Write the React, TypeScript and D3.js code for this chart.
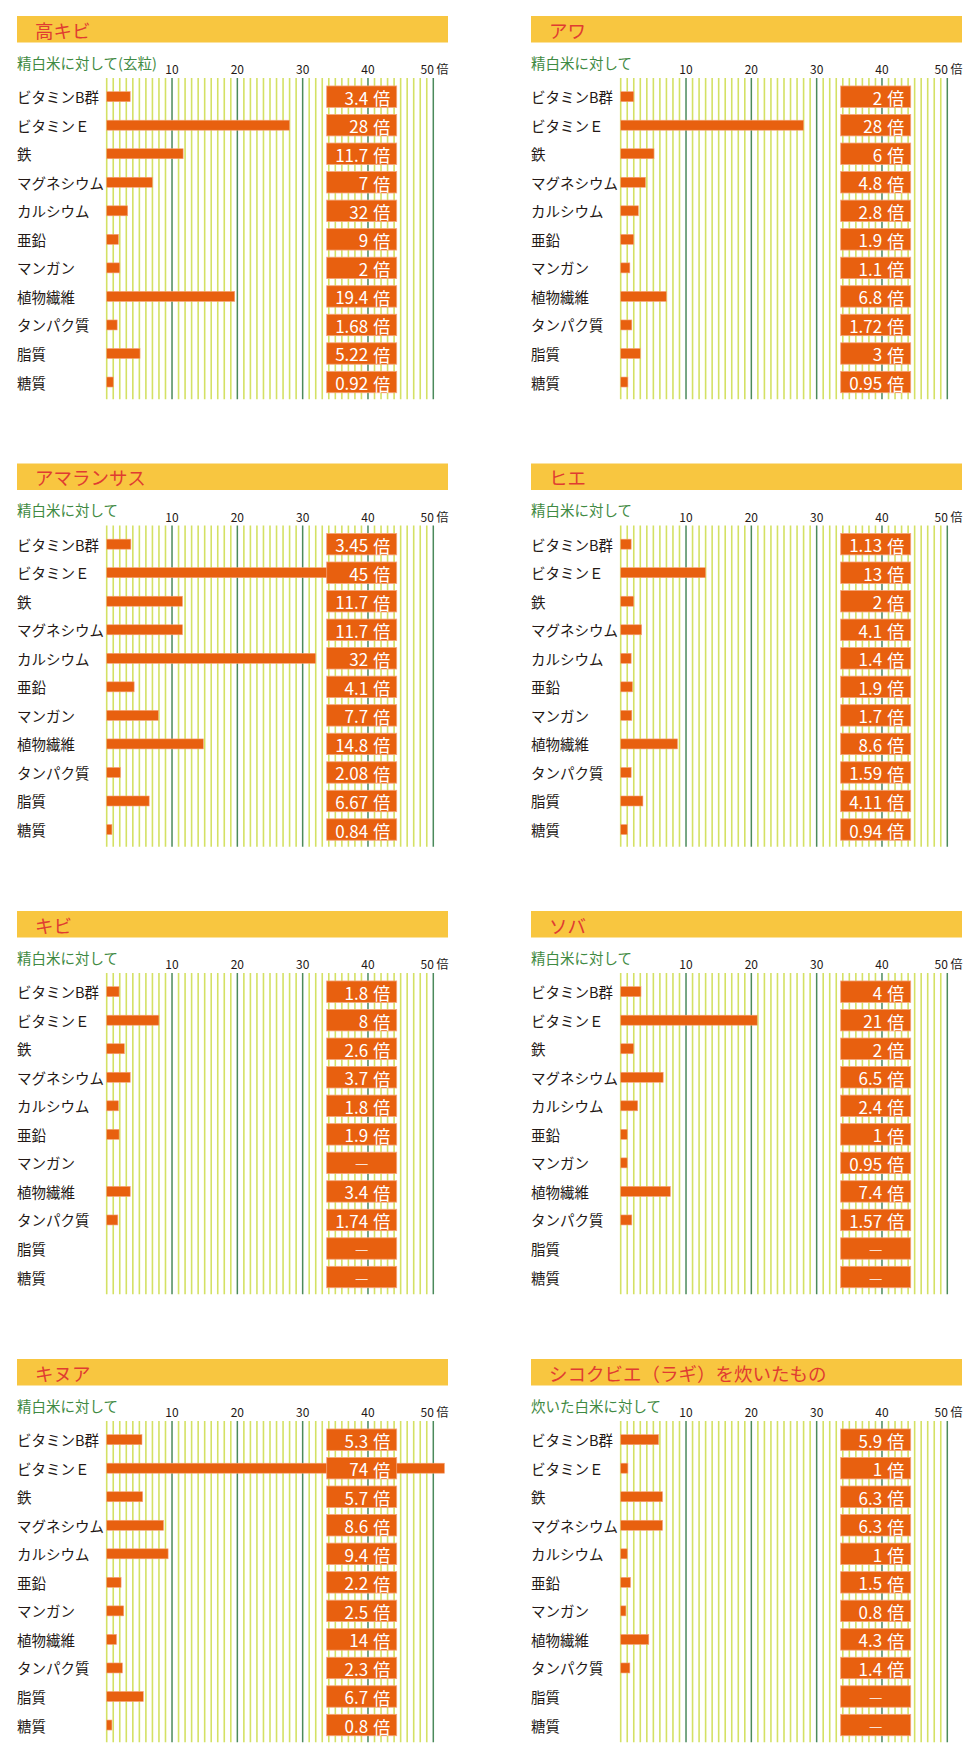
import React from 'react';
import * as d3 from 'd3';

// ---- data ----
const nutrients = ['ビタミンB群', 'ビタミンＥ', '鉄', 'マグネシウム', 'カルシウム', '亜鉛', 'マンガン', '植物繊維', 'タンパク質', '脂質', '糖質'];
const ticks = [10, 20, 30, 40, 50];
const unit = '倍';

const titles = ['高キビ', 'アワ', 'アマランサス', 'ヒエ', 'キビ', 'ソバ', 'キヌア', 'シコクビエ（ラギ）を炊いたもの'];
const subtitles = ['精白米に対して(玄粒)', '精白米に対して', '精白米に対して', '精白米に対して', '精白米に対して', '精白米に対して', '精白米に対して', '炊いた白米に対して'];

// bar lengths as drawn
const takakibiBars = [3.6, 28, 11.7, 7, 3.2, 1.8, 2, 19.6, 1.6, 5.1, 1.0];
const awaBars = [2.0, 28, 5.1, 3.8, 2.7, 2.0, 1.4, 7.0, 1.7, 3.0, 1.1];
const amaranthBars = [3.7, 44, 11.6, 11.6, 32, 4.2, 7.9, 14.8, 2.1, 6.5, 0.8];
const hieBars = [1.6, 13, 2.0, 3.2, 1.6, 1.8, 1.7, 8.7, 1.6, 3.4, 1.0];
const kibiBars = [1.9, 8, 2.7, 3.6, 1.8, 1.9, null, 3.6, 1.7, null, null];
const sobaBars = [3.1, 20.9, 2.0, 6.5, 2.6, 1.0, 1.0, 7.6, 1.7, null, null];
const quinoaBars = [5.4, 74, 5.5, 8.7, 9.4, 2.2, 2.6, 1.5, 2.4, 5.6, 0.8];
const ragiBars = [5.8, 1.1, 6.4, 6.4, 1.0, 1.5, 0.8, 4.3, 1.4, null, null];

// value labels
const takakibiLabels = ['3.4', '28', '11.7', '7', '32', '9', '2', '19.4', '1.68', '5.22', '0.92'];
const awaLabels = ['2', '28', '6', '4.8', '2.8', '1.9', '1.1', '6.8', '1.72', '3', '0.95'];
const amaranthLabels = ['3.45', '45', '11.7', '11.7', '32', '4.1', '7.7', '14.8', '2.08', '6.67', '0.84'];
const hieLabels = ['1.13', '13', '2', '4.1', '1.4', '1.9', '1.7', '8.6', '1.59', '4.11', '0.94'];
const kibiLabels = ['1.8', '8', '2.6', '3.7', '1.8', '1.9', null, '3.4', '1.74', null, null];
const sobaLabels = ['4', '21', '2', '6.5', '2.4', '1', '0.95', '7.4', '1.57', null, null];
const quinoaLabels = ['5.3', '74', '5.7', '8.6', '9.4', '2.2', '2.5', '14', '2.3', '6.7', '0.8'];
const ragiLabels = ['5.9', '1', '6.3', '6.3', '1', '1.5', '0.8', '4.3', '1.4', null, null];

const allBars = [takakibiBars, awaBars, amaranthBars, hieBars, kibiBars, sobaBars, quinoaBars, ragiBars];
const allLabels = [takakibiLabels, awaLabels, amaranthLabels, hieLabels, kibiLabels, sobaLabels, quinoaLabels, ragiLabels];

// ---- layout ----
const FONT = '"Noto Sans CJK JP", "Noto Sans", sans-serif';
const HEADER_W = 431;
const HEADER_H = 26.5;
const COL_X = [17, 531];
const ROW_Y = [16, 463.5, 911, 1359];
const ZERO_OFF = 89.7;
const PLOT_W = 326.6;
const CLIP_MAX = 51.7;

const C = {
  header: '#f8c640',
  title: '#e03c31',
  sub: '#3f8a43',
  label: '#231815',
  bar: '#e8600f',
  barStroke: '#f4a478',
  major: '#4b8a5b',
  minor: '#d4e164',
};

function Panel({ idx }: { idx: number }) {
  const hx = COL_X[idx % 2];
  const hy = ROW_Y[Math.floor(idx / 2)];
  const bars = allBars[idx];
  const labels = allLabels[idx];
  const x = d3.scaleLinear().domain([0, 50]).range([hx + ZERO_OFF, hx + ZERO_OFF + PLOT_W]);
  const y = d3.scaleBand<number>().domain(d3.range(nutrients.length)).range([hy + 66.4, hy + 380.3]);
  const rowC = (i: number) => (y(i) as number) + y.bandwidth() / 2;
  const gridTop = hy + 62;
  const gridBot = hy + 383.3;
  const minor = d3.range(0, 50).filter((v) => v % 10 !== 0 || v === 0);
  const boxL = x(0) + 220;
  const boxW = 70;
  return (
    <g>
      <rect x={hx} y={hy} width={HEADER_W} height={HEADER_H} fill={C.header} />
      <text x={hx + 18} y={hy + HEADER_H / 2 + 0.5} dominantBaseline="central" fill={C.title} fontSize={18.5} fontFamily={FONT}>
        {titles[idx]}
      </text>
      <text x={hx} y={hy + 46} dominantBaseline="central" fill={C.sub} fontSize={14.5} fontFamily={FONT}>
        {subtitles[idx]}
      </text>
      {ticks.map((t, i) => (
        <text key={t} x={x(t) + (i === ticks.length - 1 ? 1.2 : 0)} y={hy + 52.5} dominantBaseline="central" textAnchor="middle" fill={C.label} fontSize={12} fontFamily={FONT}>
          {i === ticks.length - 1 ? `${t} ${unit}` : `${t}`}
        </text>
      ))}
      {minor.map((v) => (
        <line key={'m' + v} x1={x(v)} x2={x(v)} y1={gridTop} y2={gridBot} stroke={C.minor} strokeWidth={1.6} />
      ))}
      {ticks.map((t) => (
        <line key={'M' + t} x1={x(t)} x2={x(t)} y1={gridTop} y2={gridBot} stroke={C.major} strokeWidth={1.5} />
      ))}
      {nutrients.map((n, i) => (
        <text key={n} x={hx} y={rowC(i)} dominantBaseline="central" fill={C.label} fontSize={14.5} fontFamily={FONT}>
          {n}
        </text>
      ))}
      {bars.map((v, i) =>
        v == null ? null : (
          <rect key={'b' + i} x={x(0)} y={rowC(i) - 5} width={x(Math.min(v, CLIP_MAX)) - x(0)} height={10} fill={C.bar} stroke={C.barStroke} strokeWidth={0.6} />
        )
      )}
      {labels.map((l, i) => (
        <g key={'l' + i}>
          <rect x={boxL} y={rowC(i) - 10.7} width={boxW} height={21.4} fill={C.bar} stroke={C.barStroke} strokeWidth={0.8} />
          {l == null ? (
            <text x={boxL + boxW / 2} y={rowC(i)} dominantBaseline="central" textAnchor="middle" fill="#fbe3d3" fontSize={15} fontFamily={FONT}>
              —
            </text>
          ) : (
            <text x={boxL + boxW - 6.5} y={rowC(i) + 0.5} dominantBaseline="central" textAnchor="end" fill="#ffffff" fontSize={17} fontFamily={FONT}>
              {l}
              <tspan dx={5}>{unit}</tspan>
            </text>
          )}
        </g>
      ))}
    </g>
  );
}

export default function App() {
  return (
    <svg width={980} height={1763} style={{ position: 'absolute', left: 0, top: 0, background: '#fff' }}>
      <rect width={980} height={1763} fill="#fff" />
      {titles.map((_, i) => (
        <Panel key={i} idx={i} />
      ))}
    </svg>
  );
}
